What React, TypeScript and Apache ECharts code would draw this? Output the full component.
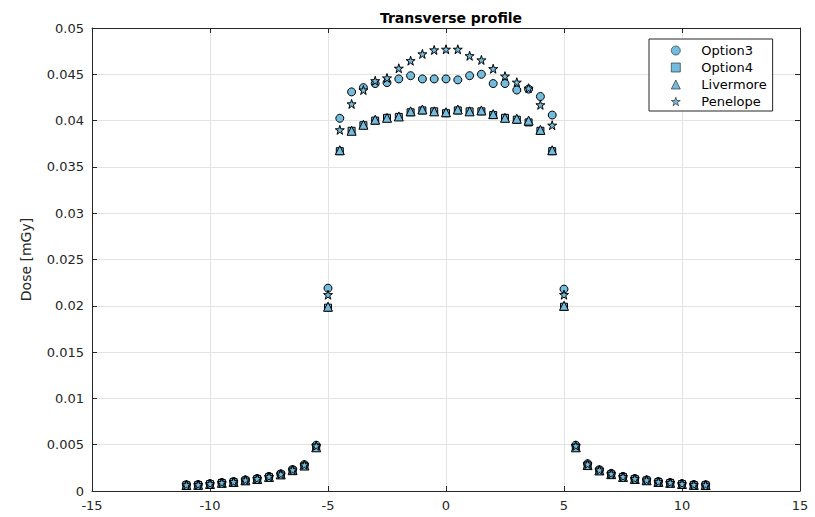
import React, { useEffect, useRef } from "react";
import * as echarts from "echarts";

const positions = [
  -11, -10.5, -10, -9.5, -9, -8.5, -8, -7.5, -7, -6.5, -6, -5.5,
  -5,
  -4.5, -4, -3.5, -3, -2.5, -2, -1.5, -1, -0.5, 0, 0.5, 1, 1.5, 2, 2.5, 3, 3.5, 4, 4.5,
  5,
  5.5, 6, 6.5, 7, 7.5, 8, 8.5, 9, 9.5, 10, 10.5, 11,
];

const option3 = [
  0.00068, 0.0007, 0.0008, 0.00092, 0.00102, 0.0012, 0.00135, 0.00158, 0.00185, 0.00232, 0.00285, 0.00495,
  0.0219,
  0.04025, 0.0431, 0.04356, 0.044, 0.0441, 0.0445, 0.04485, 0.0445, 0.0445, 0.0445, 0.0444, 0.04485, 0.045, 0.044, 0.044, 0.0433, 0.0434, 0.0426, 0.0406,
  0.0218,
  0.00495, 0.00295, 0.0023, 0.0019, 0.00158, 0.00135, 0.0012, 0.00102, 0.00092, 0.0008, 0.0007, 0.00068,
];

const option4 = [
  0.00062, 0.00064, 0.00074, 0.00086, 0.00096, 0.00113, 0.00128, 0.0015, 0.00177, 0.00222, 0.00272, 0.0047,
  0.0198,
  0.0367, 0.0389, 0.0395, 0.04, 0.0403, 0.0404, 0.0409, 0.0411, 0.041, 0.0408, 0.0411, 0.041, 0.041, 0.0406, 0.0403, 0.0401, 0.0398, 0.0389, 0.0367,
  0.0199,
  0.0047, 0.00278, 0.0022, 0.0018, 0.0015, 0.00128, 0.00114, 0.00096, 0.00086, 0.00074, 0.00064, 0.00062,
];

const livermore = [
  0.00064, 0.00066, 0.00076, 0.00088, 0.00098, 0.00115, 0.0013, 0.00152, 0.00179, 0.00225, 0.00275, 0.00472,
  0.0199,
  0.0368, 0.0389, 0.03955, 0.0401, 0.0403, 0.04045, 0.0410, 0.0412, 0.041, 0.0409, 0.0412, 0.0410, 0.0411, 0.0407, 0.0403, 0.0402, 0.0400, 0.0390, 0.0368,
  0.0200,
  0.00472, 0.0028, 0.00222, 0.00182, 0.00152, 0.0013, 0.00116, 0.00098, 0.00088, 0.00076, 0.00066, 0.00064,
];

const penelope = [
  0.00066, 0.00068, 0.00078, 0.0009, 0.001, 0.00118, 0.00133, 0.00155, 0.00182, 0.00228, 0.00282, 0.00488,
  0.0212,
  0.039, 0.0418, 0.0433, 0.0443, 0.0446, 0.04565, 0.04647, 0.0472, 0.04763, 0.0477, 0.0477, 0.047, 0.04655, 0.0456, 0.0448, 0.04414, 0.0435, 0.0417, 0.0395,
  0.0212,
  0.00488, 0.0029, 0.00226, 0.00186, 0.00155, 0.00133, 0.00118, 0.001, 0.0009, 0.00078, 0.00068, 0.00066,
];

const seriesNames = ["Option3", "Option4", "Livermore", "Penelope"];
const xTicks = [-15, -10, -5, 0, 5, 10, 15];
const yTicks = [0, 0.005, 0.01, 0.015, 0.02, 0.025, 0.03, 0.035, 0.04, 0.045, 0.05];

const STAR =
  "path://M50,0 L61.23,34.55 L97.55,34.55 L68.17,55.9 L79.39,90.45 L50,69.1 L20.61,90.45 L31.83,55.9 L2.45,34.55 L38.77,34.55 Z";

const FILL = "#74bcdd";
const AXIS = "#262626";
const FONT = "DejaVu Sans";

export default function App() {
  const ref = useRef<HTMLDivElement>(null);

  useEffect(() => {
    if (!ref.current) return;
    const chart = echarts.init(ref.current, undefined, { renderer: "svg" });
    const pair = (vals: number[]) => positions.map((x, i) => [x, vals[i]]);
    const fmtY = (v: number) => String(parseFloat(v.toFixed(4)));

    const commonAxis = {
      axisLine: { show: true, onZero: false, lineStyle: { color: AXIS, width: 1 } },
      axisTick: { show: true, inside: true, length: 5, lineStyle: { color: AXIS } },
    };

    const mk = (name: string, vals: number[], symbol: string, size: number) => ({
      name,
      type: "scatter",
      data: pair(vals),
      symbol,
      symbolSize: size,
      itemStyle: { color: FILL, borderColor: "#000", borderWidth: 1, opacity: 1 },
      emphasis: { disabled: true },
    });

    chart.setOption({
      animation: false,
      backgroundColor: "#fff",
      textStyle: { fontFamily: FONT },
      title: {
        text: "Transverse profile",
        left: 446,
        top: 6,
        textAlign: "center",
        textStyle: { fontFamily: FONT, fontSize: 14, fontWeight: "bold", color: "#000" },
      },
      grid: { left: 92, right: 15, top: 28, bottom: 26 },
      legend: {
        orient: "vertical",
        left: 649,
        top: 39,
        data: seriesNames,
        itemWidth: 9,
        itemHeight: 9,
        itemGap: 4,
        padding: [5, 6, 3, 22],
        backgroundColor: "#fff",
        borderColor: AXIS,
        borderWidth: 1,
        borderRadius: 0,
        itemStyle: { color: FILL, borderColor: "#1a1a1a", borderWidth: 0.6 },
        textStyle: { fontFamily: FONT, fontSize: 13, color: "#000", lineHeight: 13, padding: [0, 0, 0, 16] },
      },
      xAxis: [
        {
          type: "value",
          position: "bottom",
          min: xTicks[0],
          max: xTicks[xTicks.length - 1],
          interval: 5,
          ...commonAxis,
          splitLine: { show: true, lineStyle: { color: "#e3e3e3", width: 1 } },
          axisLabel: { fontFamily: FONT, fontSize: 13, color: AXIS, margin: 8 },
        },
        {
          type: "value",
          position: "top",
          min: xTicks[0],
          max: xTicks[xTicks.length - 1],
          interval: 5,
          ...commonAxis,
          splitLine: { show: false },
          axisLabel: { show: false },
        },
      ],
      yAxis: [
        {
          type: "value",
          position: "left",
          min: yTicks[0],
          max: yTicks[yTicks.length - 1],
          interval: 0.005,
          ...commonAxis,
          name: "Dose [mGy]",
          nameLocation: "middle",
          nameGap: 59,
          nameTextStyle: { fontFamily: FONT, fontSize: 14, color: AXIS },
          splitLine: { show: true, lineStyle: { color: "#e3e3e3", width: 1 } },
          axisLabel: { fontFamily: FONT, fontSize: 13, color: AXIS, margin: 8, formatter: fmtY },
        },
        {
          type: "value",
          position: "right",
          min: yTicks[0],
          max: yTicks[yTicks.length - 1],
          interval: 0.005,
          ...commonAxis,
          splitLine: { show: false },
          axisLabel: { show: false },
        },
      ],
      series: [
        mk(seriesNames[0], option3, "circle", 8),
        mk(seriesNames[1], option4, "rect", 7),
        mk(seriesNames[2], livermore, "triangle", 9),
        mk(seriesNames[3], penelope, STAR, 9),
      ],
    });
    return () => chart.dispose();
  }, []);

  return (
    <div
      ref={ref}
      style={{ position: "fixed", left: 0, top: 0, width: 815, height: 517 }}
    />
  );
}
